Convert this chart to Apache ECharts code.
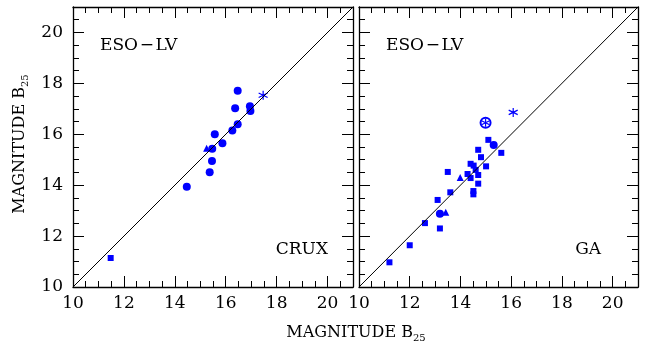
<!DOCTYPE html>
<html>
<head>
<meta charset="utf-8">
<script src="https://cdn.jsdelivr.net/npm/echarts@6/dist/echarts.min.js"></script>
<style>
  html, body { margin: 0; padding: 0; background: #fff; }
  #chart { width: 647px; height: 360px; }
</style>
</head>
<body>
<div id="chart"></div>
<script>
// axis range (same on both panels, both axes)
const axisMin = 10;
const axisMax = 21;
const majorStep = 2;
const minorStep = 0.5;
const diagonal = [[10, 10], [21, 21]];

// CRUX panel
const cruxCircles = [
  [14.47, 13.94], [15.37, 14.51], [15.46, 14.95], [15.47, 15.43],
  [15.57, 16.0], [15.87, 15.65], [16.26, 16.15], [16.47, 16.39],
  [16.37, 17.02], [16.47, 17.71], [16.95, 17.1], [16.97, 16.91]
];
const cruxSquares = [[11.48, 11.14]];
const cruxTriangles = [[15.25, 15.45]];
const cruxStars = [[17.47, 17.53]];

// GA panel
const gaSquares = [
  [11.2, 10.97], [12.0, 11.64], [12.6, 12.51], [13.19, 12.3], [13.1, 13.42],
  [13.6, 13.72], [13.5, 14.52], [14.28, 14.44], [14.4, 14.28], [14.4, 14.84],
  [14.52, 14.77], [14.6, 14.6], [14.7, 14.4], [14.7, 14.06], [14.51, 13.77],
  [14.51, 13.64], [14.81, 15.1], [14.7, 15.39], [15.01, 14.74], [15.1, 15.78],
  [15.61, 15.27]
];
const gaCircles = [[13.19, 12.88], [15.31, 15.58]];
const gaTriangles = [[13.42, 12.94], [13.99, 14.3]];
const gaStars = [[16.08, 16.86]];
const gaCircledStars = [[14.99, 16.45]];

const blue = "#0000ff";
const font = "DejaVu Serif";
const asterisk = "path://M0,-1L0,1M-0.866,-0.5L0.866,0.5M-0.866,0.5L0.866,-0.5";

function axis(grid, pos, major, labels) {
  return {
    type: "value",
    gridIndex: grid,
    position: pos,
    min: axisMin,
    max: axisMax,
    interval: major ? majorStep : minorStep,
    axisLine: { show: major, lineStyle: { color: "#000", width: 1.3 } },
    axisTick: { show: true, inside: true, length: major ? 11 : 6, lineStyle: { color: "#000", width: 1 } },
    axisLabel: {
      show: labels,
      color: "#000",
      fontFamily: font,
      fontSize: 17,
      margin: pos === "left" ? 10 : 8,
      formatter: (v) => (v % 2 === 0 && v <= 20 ? String(v) : "")
    },
    splitLine: { show: false }
  };
}

const xAxes = [], yAxes = [];
[0, 1].forEach((g) => {
  xAxes.push(axis(g, "bottom", true, true), axis(g, "bottom", false, false),
             axis(g, "top", true, false), axis(g, "top", false, false));
  yAxes.push(axis(g, "left", true, g === 0), axis(g, "left", false, false),
             axis(g, "right", true, false), axis(g, "right", false, false));
});

function pts(g, data, symbol, size, extra) {
  return Object.assign({
    type: "scatter",
    xAxisIndex: g * 4,
    yAxisIndex: g * 4,
    data: data,
    symbol: symbol,
    symbolSize: size,
    itemStyle: { color: blue, opacity: 1 },
    silent: true
  }, extra || {});
}

const starStyle = { itemStyle: { color: blue, borderColor: blue, borderWidth: 1.2, opacity: 1 } };

const chart = echarts.init(document.getElementById("chart"));
chart.setOption({
  animation: false,
  backgroundColor: "#fff",
  grid: [
    { left: 73, top: 7, width: 280, height: 280 },
    { left: 359, top: 7, width: 279, height: 280 }
  ],
  xAxis: xAxes,
  yAxis: yAxes,
  series: [
    { type: "line", xAxisIndex: 0, yAxisIndex: 0, data: diagonal, symbol: "none", silent: true,
      lineStyle: { color: "#000", width: 1 } },
    { type: "line", xAxisIndex: 4, yAxisIndex: 4, data: diagonal, symbol: "none", silent: true,
      lineStyle: { color: "#000", width: 1 } },
    pts(0, cruxCircles, "circle", 8),
    pts(0, cruxSquares, "rect", 6),
    pts(0, cruxTriangles, "triangle", 7),
    pts(0, cruxStars, asterisk, 9, starStyle),
    pts(1, gaSquares, "rect", 6),
    pts(1, gaCircles, "circle", 8),
    pts(1, gaTriangles, "triangle", 7),
    pts(1, gaStars, asterisk, 9, starStyle),
    pts(1, gaCircledStars, "emptyCircle", 10, { itemStyle: { color: blue, borderColor: blue, borderWidth: 1.2, opacity: 1 } }),
    pts(1, gaCircledStars, asterisk, 8, starStyle)
  ],
  graphic: [
    { type: "text", left: 100, top: 37, style: { text: "ESO\u200A\u2212\u200ALV", font: "17px '" + font + "'", fill: "#000" } },
    { type: "text", left: 386, top: 37, style: { text: "ESO\u200A\u2212\u200ALV", font: "17px '" + font + "'", fill: "#000" } },
    { type: "text", right: 647 - 328, top: 241, style: { text: "CRUX", font: "17px '" + font + "'", fill: "#000" } },
    { type: "text", right: 647 - 601, top: 241, style: { text: "GA", font: "17px '" + font + "'", fill: "#000" } },
    {
      type: "text", x: 356, y: 333,
      style: {
        text: "{a|MAGNITUDE B}{s|25}", align: "center", verticalAlign: "middle",
        rich: {
          a: { fontFamily: font, fontSize: 16, lineHeight: 20, color: "#000" },
          s: { fontFamily: font, fontSize: 10, lineHeight: 10, verticalAlign: "bottom", color: "#000" }
        }
      }
    },
    {
      type: "text", x: 20, y: 144, rotation: Math.PI / 2,
      style: {
        text: "{a|MAGNITUDE B}{s|25}", align: "center", verticalAlign: "middle",
        rich: {
          a: { fontFamily: font, fontSize: 16, lineHeight: 20, color: "#000" },
          s: { fontFamily: font, fontSize: 10, lineHeight: 10, verticalAlign: "bottom", color: "#000" }
        }
      }
    }
  ]
});
</script>
</body>
</html>
